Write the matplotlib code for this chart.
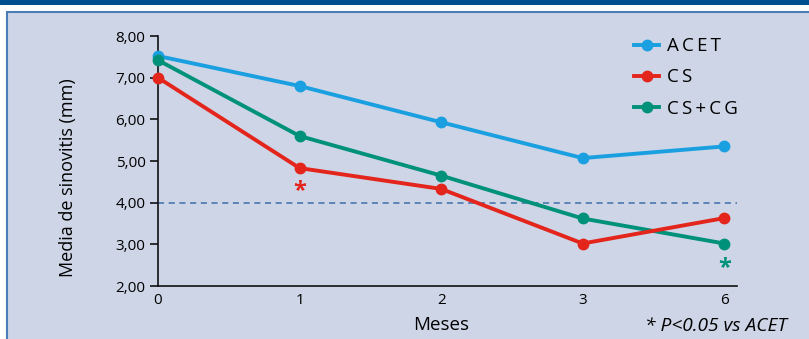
import matplotlib
matplotlib.use("Agg")
import matplotlib.pyplot as plt
from matplotlib.patches import Rectangle

plt.rcParams['font.family'] = ['Open Sans', 'DejaVu Sans']

months = ["0", "1", "2", "3", "6"]
acet = [7.52, 6.80, 5.93, 5.07, 5.35]
cs = [7.00, 4.83, 4.33, 3.02, 3.63]
cs_cg = [7.42, 5.60, 4.65, 3.62, 3.02]
series_names = ["ACET", "CS", "CS+CG"]
y_ticks = [2, 3, 4, 5, 6, 7, 8]
y_tick_labels = ["2,00", "3,00", "4,00", "5,00", "6,00", "7,00", "8,00"]
reference_level = 4.0

c_acet = "#1AA0E0"
c_cs = "#E4251C"
c_cscg = "#00917A"
panel_bg = "#CDD5E6"


def tracked(s):
    # widen letter spacing with thin spaces
    return "\u2009".join(s)


W, H = 809, 339
fig = plt.figure(figsize=(W / 100, H / 100), dpi=100, facecolor="white")

# header band and framed panel
fig.patches.append(Rectangle((0, 1 - 5 / H), 1, 5 / H, transform=fig.transFigure,
                             facecolor="#00508F", edgecolor="none", zorder=-10))
fig.patches.append(Rectangle((7 / W, -0.01), 1.01 - 7 / W, 1 - 12 / H + 0.01,
                             transform=fig.transFigure, facecolor=panel_bg,
                             edgecolor="#4A7DB5", linewidth=1.5, zorder=-10))

ax = fig.add_axes([158 / W, 1 - 286 / H, (737 - 158) / W, (286 - 36) / H])
ax.set_facecolor("none")
ax.set_zorder(1)

x = list(range(len(months)))
kw = dict(linewidth=2.8, marker="o", markersize=7.5, clip_on=False)
ax.plot(x, acet, color=c_acet, label=tracked(series_names[0]), zorder=3, **kw)
ax.plot(x, cs, color=c_cs, label=tracked(series_names[1]), zorder=4, **kw)
ax.plot(x, cs_cg, color=c_cscg, label=tracked(series_names[2]), zorder=3, **kw)

ax.axhline(reference_level, color="#3D6EA8", linewidth=1.1, linestyle=(0, (4, 3)), zorder=2)

# significance marks
ax.text(1, cs[1] - 0.55, "*", color=c_cs, fontsize=17, ha="center", va="center",
        fontweight="bold")
ax.text(4, cs_cg[4] - 0.58, "*", color=c_cscg, fontsize=17, ha="center", va="center",
        fontweight="bold")

ax.set_xlim(0, 4.09)
ax.set_ylim(2, 8)
ax.set_xticks(x)
ax.set_xticklabels(months, fontsize=11)
ax.set_yticks(y_ticks)
ax.set_yticklabels(y_tick_labels, fontsize=11)
ax.tick_params(axis="x", length=0, pad=5)
ax.tick_params(axis="y", length=6, width=1.1, pad=3)

for s in ["top", "right"]:
    ax.spines[s].set_visible(False)
for s in ["left", "bottom"]:
    ax.spines[s].set_linewidth(1.2)
    ax.spines[s].set_color("#111111")

ax.set_ylabel("Media de sinovitis (mm)", fontsize=13)
ax.yaxis.set_label_coords((77 - 158) / 579, (286 - 178) / 250)
fig.text(441 / W, 1 - 325 / H, "Meses", fontsize=13.5, ha="center", va="center")
fig.text(787 / W, 1 - 326 / H, "* P<0.05 vs ACET", fontsize=13.8, ha="right",
         va="center", style="italic")

leg = ax.legend(loc="upper left", bbox_to_anchor=(625 / W, 1 - 28 / H),
                bbox_transform=fig.transFigure, frameon=False, fontsize=13.5,
                handlelength=1.3, handletextpad=0.45, labelspacing=0.7,
                borderpad=0)

fig.savefig("out.png", dpi=100, facecolor=fig.get_facecolor())
